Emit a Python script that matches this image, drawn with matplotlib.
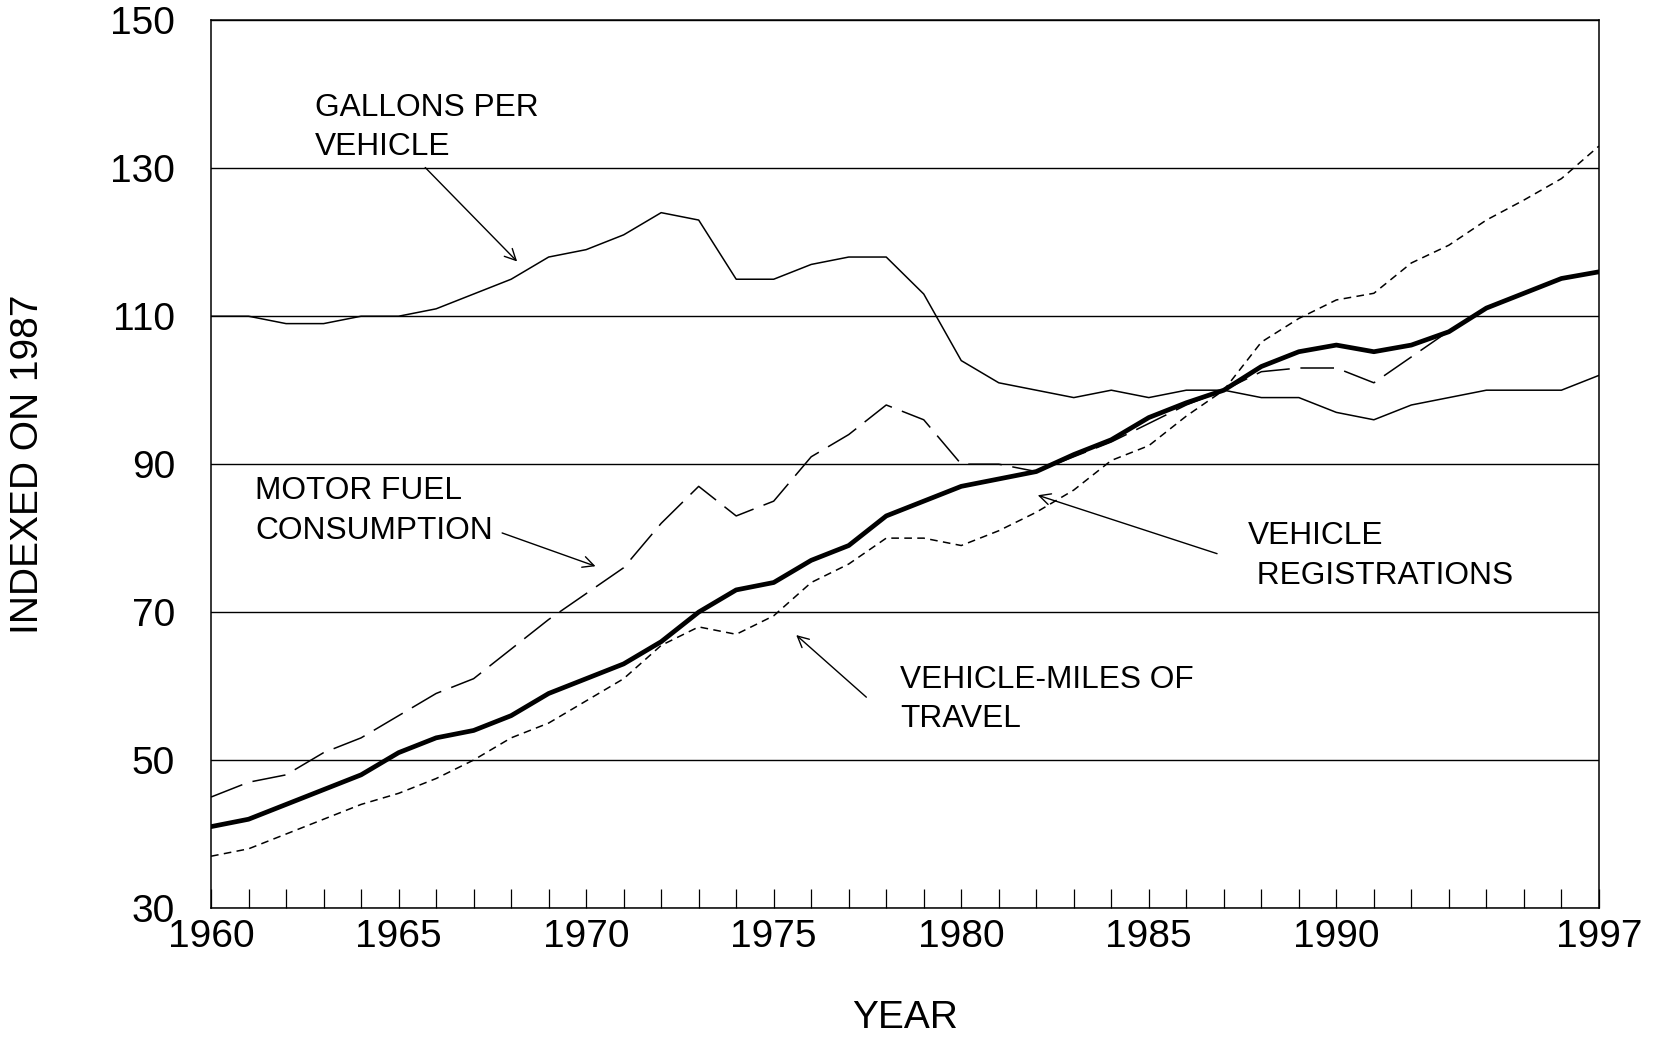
import matplotlib
matplotlib.use('Agg')
import matplotlib.pyplot as plt

plt.rcParams['font.family'] = ['Liberation Sans', 'DejaVu Sans']

# --- data (index, 1987 = 100) ---
years = list(range(1960, 1998))

gallons_per_vehicle = [110, 110, 109, 109, 110, 110, 111, 113, 115, 118,
                       119, 121, 124, 123, 115, 115, 117, 118, 118, 113,
                       104, 101, 100, 99, 100, 99, 100, 100, 99, 99,
                       97, 96, 98, 99, 100, 100, 100, 102]

motor_fuel = [45, 47, 48, 51, 53, 56, 59, 61, 65, 69,
              72.5, 76, 82, 87, 83, 85, 91, 94, 98, 96,
              90, 90, 89, 91, 93, 95.5, 98, 100, 102.5, 103,
              103, 101, 104.5, 108, 111, 113, 115, 116]

vehicle_registrations = [41, 42, 44, 46, 48, 51, 53, 54, 56, 59,
                         61, 63, 66, 70, 73, 74, 77, 79, 83, 85,
                         87, 88, 89, 91.3, 93.3, 96.3, 98.3, 100, 103.2, 105.2,
                         106.1, 105.2, 106.1, 107.9, 111.1, 113.1, 115.1, 116]

vehicle_miles = [37, 38, 40, 42, 44, 45.5, 47.5, 50, 53, 55,
                 58, 61, 65.5, 68, 67, 69.5, 74, 76.5, 80, 80,
                 79, 81, 83.5, 86.5, 90.5, 92.5, 96.5, 100, 106.5, 109.7,
                 112.2, 113.1, 117.2, 119.6, 123, 125.7, 128.6, 133]

y_ticks = [30, 50, 70, 90, 110, 130, 150]
x_labeled = [1960, 1965, 1970, 1975, 1980, 1985, 1990, 1997]

# annotation texts: (text, text position, arrow start, arrow tip)
notes = [
    ('GALLONS PER\nVEHICLE', (1962.78, 140.2), (1965.71, 130.1), (1968.16, 117.4)),
    ('MOTOR FUEL\nCONSUMPTION', (1961.18, 88.4), (1967.76, 80.7), (1970.25, 76.2)),
    ('VEHICLE-MILES OF\nTRAVEL', (1978.38, 62.9), (1977.47, 58.5), (1975.60, 66.9)),
    ('VEHICLE\n REGISTRATIONS', (1987.65, 82.3), (1986.82, 77.9), (1982.04, 85.8)),
]

fig = plt.figure(figsize=(16.54, 10.37), dpi=100)
ax = fig.add_axes([0.1276, 0.1244, 0.8391, 0.856])

ax.plot(years, gallons_per_vehicle, color='black', lw=1.1)
ax.plot(years, motor_fuel, color='black', lw=1.1, dashes=(22, 7))
ax.plot(years, vehicle_miles, color='black', lw=1.1, dashes=(5, 3.5))
ax.plot(years, vehicle_registrations, color='black', lw=3.4)

ax.set_xlim(1960, 1997)
ax.set_ylim(30, 150)
ax.set_yticks(y_ticks)
ax.set_yticklabels([str(v) for v in y_ticks])
ax.set_xticks(years)
ax.set_xticklabels([str(y) if y in x_labeled else '' for y in years])

ax.grid(axis='y', color='black', lw=1.0)
ax.set_axisbelow(True)
ax.tick_params(axis='y', length=0, pad=26, labelsize=28)
ax.tick_params(axis='x', direction='in', length=14, width=0.9, pad=8, labelsize=28)
for s in ax.spines.values():
    s.set_linewidth(1.1)

for txt, pos, start, tip in notes:
    ax.text(pos[0], pos[1], txt, fontsize=22.8, ha='left', va='top', linespacing=1.42)
    ax.annotate('', xy=tip, xytext=start,
                arrowprops=dict(arrowstyle='->', lw=1.0, color='black',
                                mutation_scale=20, shrinkA=0, shrinkB=0))

ax.set_xlabel('YEAR', fontsize=28, va='center')
ax.xaxis.set_label_coords(0.5, -0.124)
ax.set_ylabel('INDEXED ON 1987', fontsize=28, va='center')
ax.yaxis.set_label_coords(-0.132, 0.5)

fig.savefig('out.png', dpi=100)
